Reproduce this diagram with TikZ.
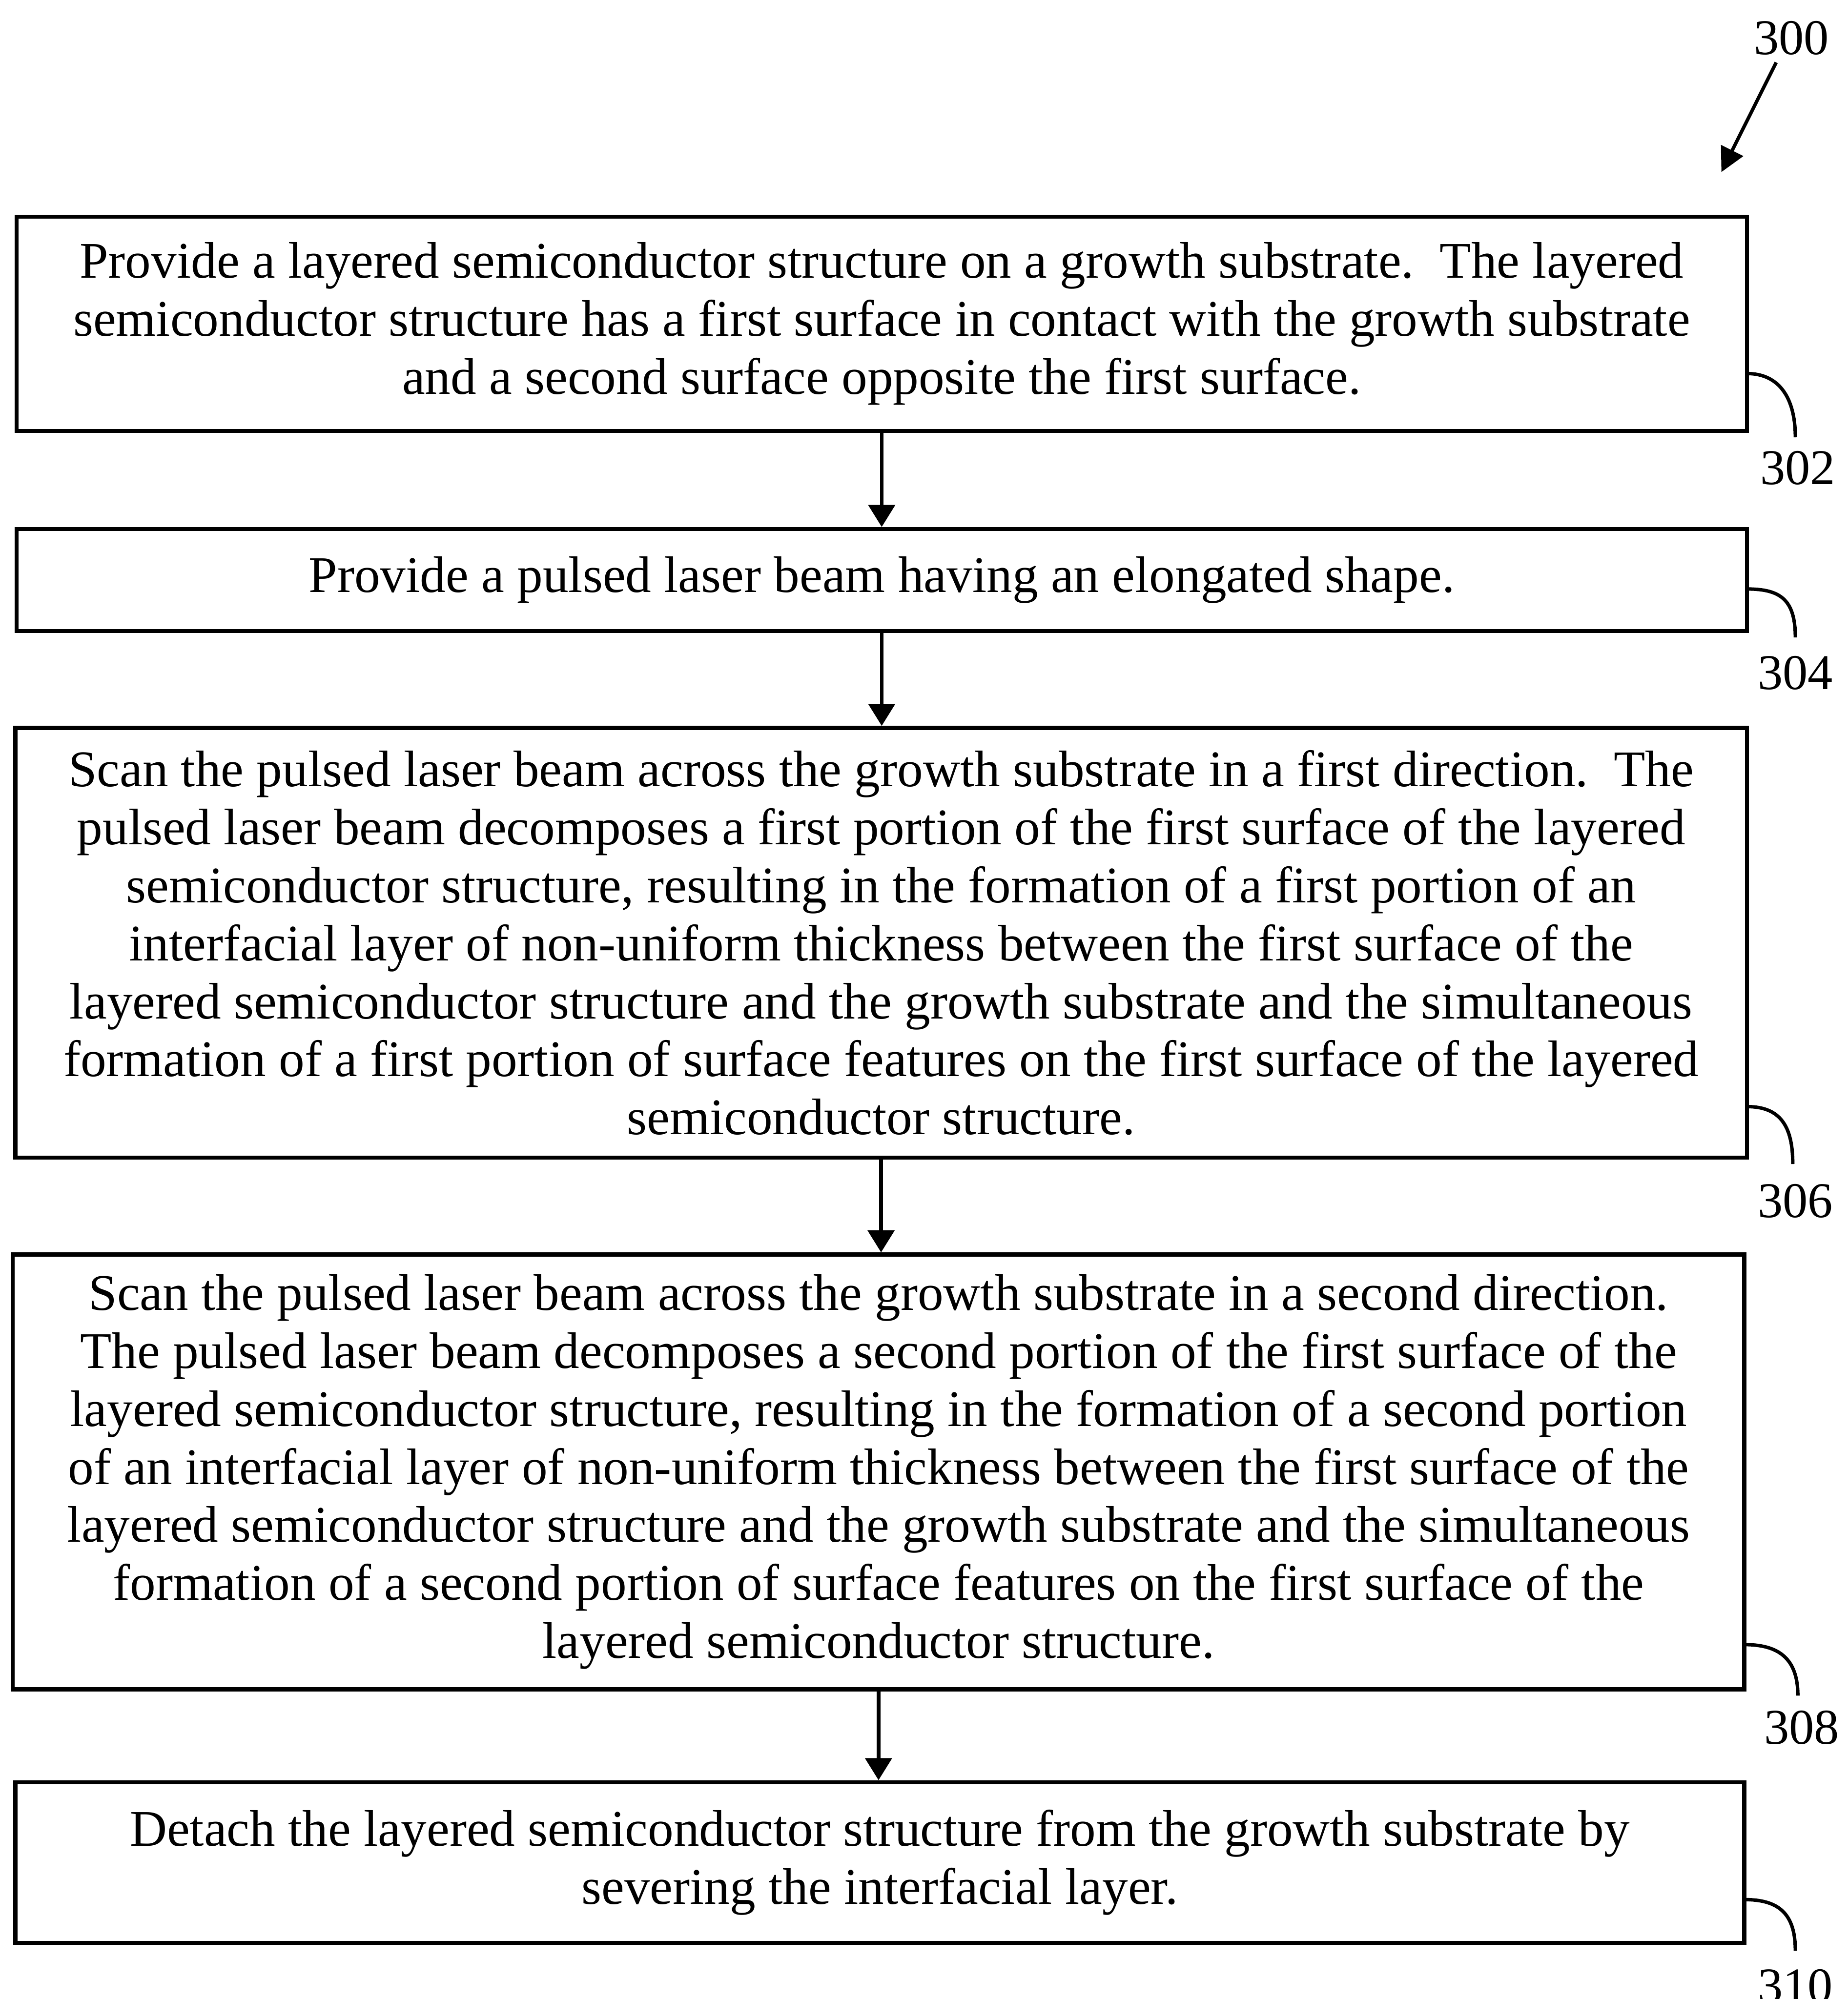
\documentclass[tikz,border=0pt]{standalone}
\usepackage{fontspec}
\setmainfont{Liberation Serif}
\usetikzlibrary{arrows.meta,calc}
\begin{document}
\begin{tikzpicture}[x=0.03cm,y=-0.03cm,
  stepbox/.style={draw,line width=2.8pt,inner sep=0pt,align=center,
    font=\fontsize{34.4}{38.85}\selectfont},
  flow/.style={line width=2.5pt,-{Triangle[width=0.62cm,length=0.52cm]}},
  hook/.style={line width=2.3pt},
  reflabel/.style={font=\fontsize{33.5}{38.85}\selectfont,inner sep=0pt}]
\useasboundingbox (0,0) rectangle (1449,1568);

\node[stepbox,minimum width={1357*0.03cm},minimum height={168*0.03cm}] (b302) at (691.5,254)
 {Provide a layered semiconductor structure on a growth substrate.\ \ The layered\\
  semiconductor structure has a first surface in contact with the growth substrate\\
  and a second surface opposite the first surface.};
\node[stepbox,minimum width={1357*0.03cm},minimum height={80*0.03cm}] (b304) at (691.5,455)
 {Provide a pulsed laser beam having an elongated shape.};
\node[stepbox,minimum width={1358*0.03cm},minimum height={337*0.03cm}] (b306) at (691,739.5)
 {Scan the pulsed laser beam across the growth substrate in a first direction.\ \ The\\
  pulsed laser beam decomposes a first portion of the first surface of the layered\\
  semiconductor structure, resulting in the formation of a first portion of an\\
  interfacial layer of non-uniform thickness between the first surface of the\\
  layered semiconductor structure and the growth substrate and the simultaneous\\
  formation of a first portion of surface features on the first surface of the layered\\
  semiconductor structure.};
\node[stepbox,minimum width={1358*0.03cm},minimum height={341*0.03cm}] (b308) at (689,1154.5)
 {Scan the pulsed laser beam across the growth substrate in a second direction.\\
  The pulsed laser beam decomposes a second portion of the first surface of the\\
  layered semiconductor structure, resulting in the formation of a second portion\\
  of an interfacial layer of non-uniform thickness between the first surface of the\\
  layered semiconductor structure and the growth substrate and the simultaneous\\
  formation of a second portion of surface features on the first surface of the\\
  layered semiconductor structure.};
\node[stepbox,minimum width={1356*0.03cm},minimum height={126*0.03cm}] (b310) at (690,1461)
 {Detach the layered semiconductor structure from the growth substrate by\\
  severing the interfacial layer.};

\draw[flow] (b302.south) -- (b302.south |- b304.north);
\draw[flow] (b304.south) -- (b304.south |- b306.north);
\draw[flow] (b306.south) -- (b306.south |- b308.north);
\draw[flow] (b308.south) -- (b308.south |- b310.north);

% reference numerals and hooks
\coordinate (s302) at (1370,293); \coordinate (e302) at (1408,343);
\coordinate (s304) at (1370,462); \coordinate (e304) at (1408,500);
\coordinate (s306) at (1370,868); \coordinate (e306) at (1406,913);
\coordinate (s308) at (1368,1290); \coordinate (e308) at (1410,1330);
\coordinate (s310) at (1368,1490); \coordinate (e310) at (1408,1530);
\foreach \n in {302,304,306,308,310}{
  \draw[hook] (s\n) .. controls +(26,0) and +(0,-30) .. (e\n);
}
\node[reflabel] (l302) at (1410,367) {302};
\node[reflabel] (l304) at (1408,528) {304};
\node[reflabel] (l306) at (1408,942) {306};
\node[reflabel] (l308) at (1413,1355) {308};
\node[reflabel] (l310) at (1408,1558) {310};

\node[reflabel] (l300) at (1405,30) {300};
\coordinate (a300) at (1350,135);
\draw[line width=2.3pt,-{Triangle[width=0.57cm,length=0.57cm]}] (1393,49) -- (a300);
\end{tikzpicture}
\end{document}
